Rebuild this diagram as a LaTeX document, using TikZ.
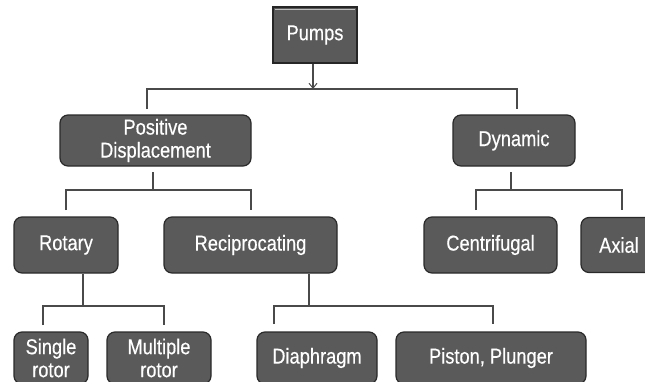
\documentclass[tikz,border=0pt]{standalone}
\usepackage{fontspec}
\setmainfont{Liberation Sans}
\newfontfamily\boxfont[FakeStretch=0.85,FakeBold=0.4]{Liberation Sans}
\usetikzlibrary{arrows.meta}
\definecolor{boxfill}{HTML}{5A5A5A}
\definecolor{boxline}{HTML}{2A2A2A}
\definecolor{linkcol}{HTML}{4A4A4A}
\tikzset{
  box/.style={draw=boxline, line width=1.2pt, fill=boxfill, rounded corners=8pt,
    text=white, align=center, inner sep=0pt,
    font=\boxfont\fontsize{21.5}{23}\selectfont},
  rootbox/.style={box, rounded corners=0pt, line width=1.5pt, draw=black!85},
  link/.style={draw=linkcol, line width=1.4pt},
}
\begin{document}
\begin{tikzpicture}[x=1pt,y=-1pt]
\clip (0,0) rectangle (645,381);
\fill[white] (0,0) rectangle (645,381);
\useasboundingbox (0,0) rectangle (645,381);

% level 0
\node[rootbox, minimum width=84pt, minimum height=56pt] (pumps) at (315,35) {Pumps};
\draw[white!75!black, line width=1.2pt] ([xshift=3pt,yshift=-3pt]pumps.north west) -- ([xshift=-3pt,yshift=-3pt]pumps.north east);

% level 1
\node[box, minimum width=191pt, minimum height=51pt] (pd) at (155.5,140.5) {Positive\\Displacement};
\node[box, minimum width=122pt, minimum height=51pt] (dyn) at (514,140.5) {Dynamic};

% level 2
\node[box, minimum width=104pt, minimum height=56pt] (rot) at (66,245) {Rotary};
\node[box, minimum width=173pt, minimum height=56pt] (rec) at (250.5,245) {Reciprocating};
\node[box, minimum width=133pt, minimum height=56pt] (cen) at (490.5,245) {Centrifugal};
\node[box, minimum width=76pt, minimum height=55pt] (axi) at (619,245) {Axial};

% level 3
\node[box, minimum width=74pt, minimum height=52pt] (sgl) at (51,358) {Single\\rotor};
\node[box, minimum width=104pt, minimum height=52pt] (mul) at (159,358) {Multiple\\rotor};
\node[box, minimum width=120pt, minimum height=52pt] (dia) at (317,358) {Diaphragm};
\node[box, minimum width=190pt, minimum height=52pt] (pis) at (491,358) {Piston, Plunger};

% junction coordinates
\coordinate (b0) at (313,89);
\coordinate (pdT) at (147,109);
\coordinate (dynT) at (517,109);

\coordinate (pdB) at (153,172);
\coordinate (b1) at (153,190);
\coordinate (rotT) at (66,210);
\coordinate (recT) at (251,210);

\coordinate (dynB) at (511,172);
\coordinate (b2) at (511,190);
\coordinate (cenT) at (476,210);
\coordinate (axiT) at (622,210);

\coordinate (rotB) at (83,274);
\coordinate (b3) at (83,306);
\coordinate (sglT) at (43,325);
\coordinate (mulT) at (164,325);

\coordinate (recB) at (309,274);
\coordinate (b4) at (309,306);
\coordinate (diaT) at (274,324);
\coordinate (pisT) at (493,324);

% connectors
\draw[link, -{Straight Barb[length=5pt,width=8pt,line width=1pt]}] (pumps.south -| b0) -- (b0);
\draw[link] (pdT) |- (b0) -| (dynT);

\draw[link] (pdB) -- (b1);
\draw[link] (rotT) |- (b1) -| (recT);

\draw[link] (dynB) -- (b2);
\draw[link] (cenT) |- (b2) -| (axiT);

\draw[link] (rotB) -- (b3);
\draw[link] (sglT) |- (b3) -| (mulT);

\draw[link] (recB) -- (b4);
\draw[link] (diaT) |- (b4) -| (pisT);
\end{tikzpicture}
\end{document}
